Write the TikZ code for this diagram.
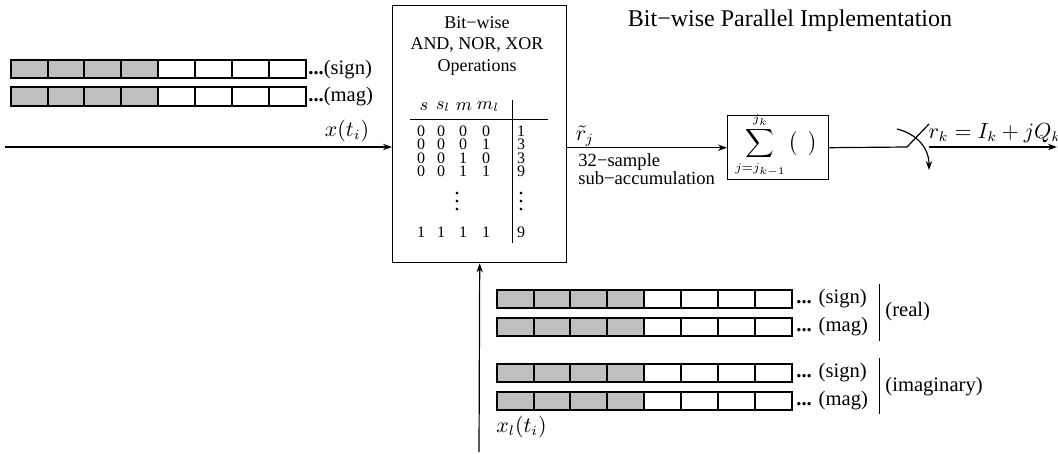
\documentclass[tikz,border=0pt]{standalone}
\usepackage[no-math]{fontspec}
\setmainfont{Liberation Serif}
\usetikzlibrary{arrows.meta}
\tikzset{
  conn/.style={line width=0.6pt},
  arr/.style={line width=0.6pt,-{Stealth[length=4.5pt,width=3.2pt]}},
  blockbox/.style={draw,line width=0.7pt,inner sep=0pt,anchor=north west},
  regcell/.style={draw,line width=1pt},
  txt/.style={inner sep=0pt,font=\fontsize{9.3}{11}\selectfont},
  boxtxt/.style={inner sep=0pt,font=\fontsize{9}{11}\selectfont},
  lbl/.style={inner sep=0pt,font=\fontsize{10.3}{12}\selectfont},
  tbl/.style={inner sep=0pt,font=\fontsize{8}{9}\selectfont},
  dotsty/.style={inner sep=0pt,font=\fontsize{11}{12}\selectfont},
  hdr/.style={inner sep=0pt,font=\fontsize{9}{10}\selectfont},
  mth/.style={inner sep=0pt,font=\fontsize{10.5}{12}\selectfont},
}
\newcommand\bitreg[2]{%
  \fill[gray!50] (#1,#2) rectangle ++(147.4,18.4);
  \foreach \k in {0,...,7}{\draw[regcell] ({#1+\k*36.85},#2) rectangle ++(36.85,18.4);}
}
\begin{document}
\begin{tikzpicture}[x=0.5pt,y=-0.5pt]
\useasboundingbox (0,0) rectangle (1058,454);
% title
\node[inner sep=0pt,font=\fontsize{12}{14}\selectfont] (title) at (790,21) {Bit−wise Parallel Implementation};
% main block
\node[blockbox,minimum width=87pt,minimum height=128.5pt] (box) at (392,5) {};
\node[boxtxt] (t1) at (477,23) {Bit−wise};
\node[boxtxt] (t2) at (477,45) {AND, NOR, XOR};
\node[boxtxt] (t3) at (477,67) {Operations};
% table
\node[hdr] (h1) at (424,107) {$s$};
\node[hdr] (h2) at (443,107) {$s_l$};
\node[hdr] (h3) at (464,107) {$m$};
\node[hdr] (h4) at (488,107) {$m_l$};
\draw[line width=0.5pt] (410,120) -- (548,120);
\draw[line width=0.5pt] (512,100) -- (512,243);
\foreach \y/\a/\b/\c/\d/\v in {131/0/0/0/0/1,144.5/0/0/0/1/3,158/0/0/1/0/3,171.5/0/0/1/1/9,232/1/1/1/1/9}{
  \node[tbl] (ra\y) at (421,\y) {\a};
  \node[tbl] (rb\y) at (441,\y) {\b};
  \node[tbl] (rc\y) at (463,\y) {\c};
  \node[tbl] (rd\y) at (486,\y) {\d};
  \node[tbl] (rv\y) at (521,\y) {\v};
}
\node[dotsty] (vd1) at (457,196) {$\vdots$};
\node[dotsty] (vd2) at (521,196) {$\vdots$};
% input registers top-left
\bitreg{10.7}{60}
\bitreg{10.7}{87.3}
\node[lbl,anchor=west] (l1) at (308,69.5) {\textbf{...}(sign)};
\node[lbl,anchor=west] (l2) at (308,96.5) {\textbf{...}(mag)};
% input x(t_i)
\coordinate (xin) at (5,147);
\draw[arr] (xin) -- (xin -| box.west);
\node[mth] (xlab) at (347,131) {$x(t_i)$};
% bottom input
\coordinate (xlin) at (479,452);
\draw[arr] (xlin) -- (box.south);
\node[mth,anchor=west] (xllab) at (496,427) {$x_l(t_i)$};
\bitreg{496.7}{290}
\bitreg{496.7}{318}
\bitreg{496.7}{364}
\bitreg{496.7}{391.5}
\node[lbl,anchor=west] (b1) at (796,299) {\textbf{...} (sign)};
\node[lbl,anchor=west] (b2) at (796,327) {\textbf{...} (mag)};
\node[lbl,anchor=west] (b3) at (796,373) {\textbf{...} (sign)};
\node[lbl,anchor=west] (b4) at (796,400.5) {\textbf{...} (mag)};
\draw[line width=0.5pt] (879,284) -- (879,341);
\draw[line width=0.5pt] (879,358) -- (879,414);
\node[lbl,anchor=west] (real) at (885,312) {(real)};
\node[lbl,anchor=west] (imag) at (885,387) {(imaginary)};
% sum block
\node[blockbox,minimum width=50.5pt,minimum height=32pt] (sum) at (727,115) {};
\node[inner sep=0pt,font=\fontsize{9}{11}\selectfont] (sumtxt) at ([xshift=-1pt,yshift=1pt]sum.center) {$\displaystyle\sum_{j=j_{k-1}}^{j_k}\,\bigl(\;\;\bigr)$};
\draw[arr] (box.east |- sum.west) -- (sum.west);
\node[mth] (rj) at (585,136) {$\tilde r_j$};
\node[txt,anchor=west] (s1) at (578,162) {32−sample};
\node[txt,anchor=west] (s2) at (578,178) {sub−accumulation};
% switch
\coordinate (sw1) at (907,147);
\coordinate (sw2) at (929,124);
\coordinate (sw3) at (929,147);
\coordinate (out) at (1057,147);
\draw[conn] (sum.east) -- (sw1) -- (sw2);
\draw[arr] (sw3) -- (out);
\coordinate (cs) at (897,129);
\coordinate (ce) at (929,170);
\draw[arr] (cs) .. controls (917,134) and (929,148) .. (ce);
\node[mth] (rk) at (995,133) {$r_k = I_k + jQ_k$};
\end{tikzpicture}
\end{document}
